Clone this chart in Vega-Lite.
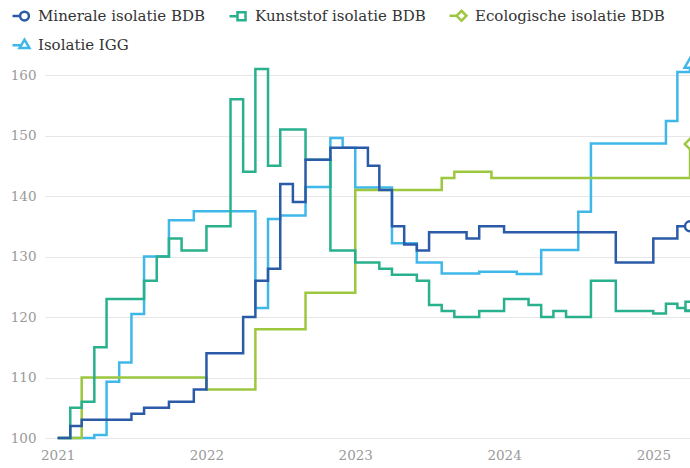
{
  "$schema": "https://vega.github.io/schema/vega-lite/v6.json",
  "width": 645,
  "height": 375,
  "autosize": "none",
  "padding": {"left": 45, "top": 63, "right": 0, "bottom": 30},
  "background": "white",
  "config": {
    "font": "DejaVu Serif",
    "view": {"stroke": null},
    "axis": {"labelFont": "DejaVu Serif", "labelColor": "#9a9a9a", "labelFontSize": 13.5, "ticks": false, "domain": false, "title": null}
  },
  "data": {"values": [
    {"date": "2021-01-01", "M": 100, "K": 100, "E": 100, "I": null},
    {"date": "2021-02-01", "M": 102, "K": 105, "E": 100, "I": 100},
    {"date": "2021-03-01", "M": 103, "K": 106, "E": 110, "I": 100},
    {"date": "2021-04-01", "M": 103, "K": 115, "E": 110, "I": 100.5},
    {"date": "2021-05-01", "M": 103, "K": 123, "E": 110, "I": 109.3},
    {"date": "2021-06-01", "M": 103, "K": 123, "E": 110, "I": 112.5},
    {"date": "2021-07-01", "M": 104, "K": 123, "E": 110, "I": 120.5},
    {"date": "2021-08-01", "M": 105, "K": 126, "E": 110, "I": 130},
    {"date": "2021-09-01", "M": 105, "K": 130, "E": 110, "I": 130},
    {"date": "2021-10-01", "M": 106, "K": 133, "E": 110, "I": 136},
    {"date": "2021-11-01", "M": 106, "K": 131, "E": 110, "I": 136},
    {"date": "2021-12-01", "M": 108, "K": 131, "E": 110, "I": 137.5},
    {"date": "2022-01-01", "M": 114, "K": 135, "E": 108, "I": 137.5},
    {"date": "2022-02-01", "M": 114, "K": 135, "E": 108, "I": 137.5},
    {"date": "2022-03-01", "M": 114, "K": 156, "E": 108, "I": 137.5},
    {"date": "2022-04-01", "M": 120, "K": 144, "E": 108, "I": 137.5},
    {"date": "2022-05-01", "M": 126, "K": 161, "E": 118, "I": 121.5},
    {"date": "2022-06-01", "M": 128, "K": 145, "E": 118, "I": 136.2},
    {"date": "2022-07-01", "M": 142, "K": 151, "E": 118, "I": 136.8},
    {"date": "2022-08-01", "M": 139, "K": 151, "E": 118, "I": 136.8},
    {"date": "2022-09-01", "M": 146, "K": 146, "E": 124, "I": 141.5},
    {"date": "2022-10-01", "M": 146, "K": 146, "E": 124, "I": 141.5},
    {"date": "2022-11-01", "M": 148, "K": 131, "E": 124, "I": 149.6},
    {"date": "2022-12-01", "M": 148, "K": 131, "E": 124, "I": 148},
    {"date": "2023-01-01", "M": 148, "K": 129, "E": 141, "I": 141.4},
    {"date": "2023-02-01", "M": 145, "K": 129, "E": 141, "I": 141.4},
    {"date": "2023-03-01", "M": 141, "K": 128, "E": 141, "I": 141.4},
    {"date": "2023-04-01", "M": 135, "K": 127, "E": 141, "I": 132.2},
    {"date": "2023-05-01", "M": 132, "K": 127, "E": 141, "I": 132.2},
    {"date": "2023-06-01", "M": 131, "K": 126, "E": 141, "I": 129},
    {"date": "2023-07-01", "M": 134, "K": 122, "E": 141, "I": 129},
    {"date": "2023-08-01", "M": 134, "K": 121, "E": 143, "I": 127.2},
    {"date": "2023-09-01", "M": 134, "K": 120, "E": 144, "I": 127.2},
    {"date": "2023-10-01", "M": 133, "K": 120, "E": 144, "I": 127.2},
    {"date": "2023-11-01", "M": 135, "K": 121, "E": 144, "I": 127.5},
    {"date": "2023-12-01", "M": 135, "K": 121, "E": 143, "I": 127.5},
    {"date": "2024-01-01", "M": 134, "K": 123, "E": 143, "I": 127.5},
    {"date": "2024-02-01", "M": 134, "K": 123, "E": 143, "I": 127.1},
    {"date": "2024-03-01", "M": 134, "K": 122, "E": 143, "I": 127.1},
    {"date": "2024-04-01", "M": 134, "K": 120, "E": 143, "I": 131.1},
    {"date": "2024-05-01", "M": 134, "K": 121, "E": 143, "I": 131.1},
    {"date": "2024-06-01", "M": 134, "K": 120, "E": 143, "I": 131.1},
    {"date": "2024-07-01", "M": 134, "K": 120, "E": 143, "I": 137.4},
    {"date": "2024-08-01", "M": 134, "K": 126, "E": 143, "I": 148.7},
    {"date": "2024-09-01", "M": 134, "K": 126, "E": 143, "I": 148.7},
    {"date": "2024-10-01", "M": 129, "K": 121, "E": 143, "I": 148.7},
    {"date": "2024-11-01", "M": 129, "K": 121, "E": 143, "I": 148.7},
    {"date": "2024-12-01", "M": 129, "K": 121, "E": 143, "I": 148.7},
    {"date": "2025-01-01", "M": 133, "K": 120.6, "E": 143, "I": 148.7},
    {"date": "2025-02-01", "M": 133, "K": 122.2, "E": 143, "I": 152.4},
    {"date": "2025-03-01", "M": 135, "K": 121.5, "E": 143, "I": 160.5},
    {"date": "2025-03-21", "M": null, "K": 121, "E": null, "I": null},
    {"date": "2025-04-01", "M": 135, "K": 121.8, "E": 148.6, "I": 162}
  ]},
  "transform": [
    {"fold": ["M", "K", "E", "I"], "as": ["series", "value"]},
    {"filter": "isValid(datum.value)"}
  ],
  "encoding": {
    "x": {
      "field": "date", "type": "temporal",
      "scale": {"type": "utc", "domain": [{"year": 2020, "month": 12, "date": 1, "utc": true}, {"year": 2025, "month": 4, "date": 1, "utc": true}]},
      "axis": {
        "values": [
          {"year": 2021, "month": 1, "date": 1, "utc": true},
          {"year": 2022, "month": 1, "date": 1, "utc": true},
          {"year": 2023, "month": 1, "date": 1, "utc": true},
          {"year": 2024, "month": 1, "date": 1, "utc": true},
          {"year": 2025, "month": 1, "date": 1, "utc": true}
        ],
        "format": "%Y", "formatType": "utc", "grid": false, "labelPadding": 10, "labelFontSize": 13.5
      }
    },
    "y": {
      "field": "value", "type": "quantitative",
      "scale": {"domain": [100, 162], "nice": false, "zero": false},
      "axis": {"values": [100, 110, 120, 130, 140, 150, 160], "grid": true, "gridColor": "#e6e6e6", "gridWidth": 1, "labelPadding": 9}
    },
    "color": {
      "field": "series", "type": "nominal",
      "scale": {"domain": ["M", "K", "E", "I"], "range": ["#2b5ba7", "#29b08c", "#9dc73f", "#3fb8e9"]},
      "legend": {
        "orient": "none", "legendX": -30, "legendY": -57, "columns": 3, "direction": "horizontal",
        "title": null, "padding": 0, "columnPadding": 18, "rowPadding": 8,
        "labelFont": "DejaVu Serif", "labelFontSize": 15, "labelColor": "#333333", "labelLimit": 300,
        "symbolSize": 256, "symbolStrokeWidth": 2.5, "symbolFillColor": "white",
        "labelExpr": "{'M': 'Minerale isolatie BDB', 'K': 'Kunststof isolatie BDB', 'E': 'Ecologische isolatie BDB', 'I': 'Isolatie IGG'}[datum.label]"
      }
    }
  },
  "layer": [
    {"transform": [{"filter": "datum.series === 'I'"}], "mark": {"type": "line", "interpolate": "step-after", "strokeWidth": 2.5}},
    {"transform": [{"filter": "datum.series === 'E'"}], "mark": {"type": "line", "interpolate": "step-after", "strokeWidth": 2.5}},
    {"transform": [{"filter": "datum.series === 'K'"}], "mark": {"type": "line", "interpolate": "step-after", "strokeWidth": 2.5}},
    {"transform": [{"filter": "datum.series === 'M'"}], "mark": {"type": "line", "interpolate": "step-after", "strokeWidth": 2.5}},
    {"transform": [{"filter": "datum.series === 'I' && time(datum.date) === utc(2025, 3, 1)"}], "mark": {"type": "point", "shape": "triangle-up", "filled": false, "fill": "white", "size": 120, "strokeWidth": 2.5, "opacity": 1}},
    {"transform": [{"filter": "datum.series === 'E' && time(datum.date) === utc(2025, 3, 1)"}], "mark": {"type": "point", "shape": "diamond", "filled": false, "fill": "white", "size": 110, "strokeWidth": 2.5, "opacity": 1}},
    {"transform": [{"filter": "datum.series === 'K' && time(datum.date) === utc(2025, 3, 1)"}], "mark": {"type": "point", "shape": "square", "filled": false, "fill": "white", "size": 80, "strokeWidth": 2.5, "opacity": 1}},
    {"transform": [{"filter": "datum.series === 'M' && time(datum.date) === utc(2025, 3, 1)"}], "mark": {"type": "point", "shape": "circle", "filled": false, "fill": "white", "size": 100, "strokeWidth": 2.5, "opacity": 1}},
    {
      "transform": [{"filter": "false"}],
      "mark": {"type": "point", "filled": false, "fill": "white", "size": 256, "strokeWidth": 2.5, "opacity": 1},
      "encoding": {
        "shape": {
          "field": "series", "type": "nominal",
          "scale": {"domain": ["M", "K", "E", "I"], "range": [
            "M-1.5,0L-0.55,0M-0.55,0A0.55,0.55,0,1,1,0.55,0A0.55,0.55,0,1,1,-0.55,0Z",
            "M-1.5,0L-0.5,0M-0.5,-0.5L0.5,-0.5L0.5,0.5L-0.5,0.5Z",
            "M-1.5,0L-0.62,0M-0.62,0L0,-0.62L0.62,0L0,0.62Z",
            "M-1.5,0.1L-0.45,0.1M0,-0.6L0.62,0.45L-0.62,0.45Z"
          ]},
          "legend": {
            "orient": "none", "legendX": -30, "legendY": -57, "columns": 3, "direction": "horizontal",
            "title": null, "padding": 0, "columnPadding": 18, "rowPadding": 8,
            "labelFont": "DejaVu Serif", "labelFontSize": 15, "labelColor": "#333333", "labelLimit": 300,
            "symbolSize": 256, "symbolStrokeWidth": 2.5, "symbolFillColor": "white",
            "labelExpr": "{'M': 'Minerale isolatie BDB', 'K': 'Kunststof isolatie BDB', 'E': 'Ecologische isolatie BDB', 'I': 'Isolatie IGG'}[datum.label]"
          }
        }
      }
    }
  ]
}
